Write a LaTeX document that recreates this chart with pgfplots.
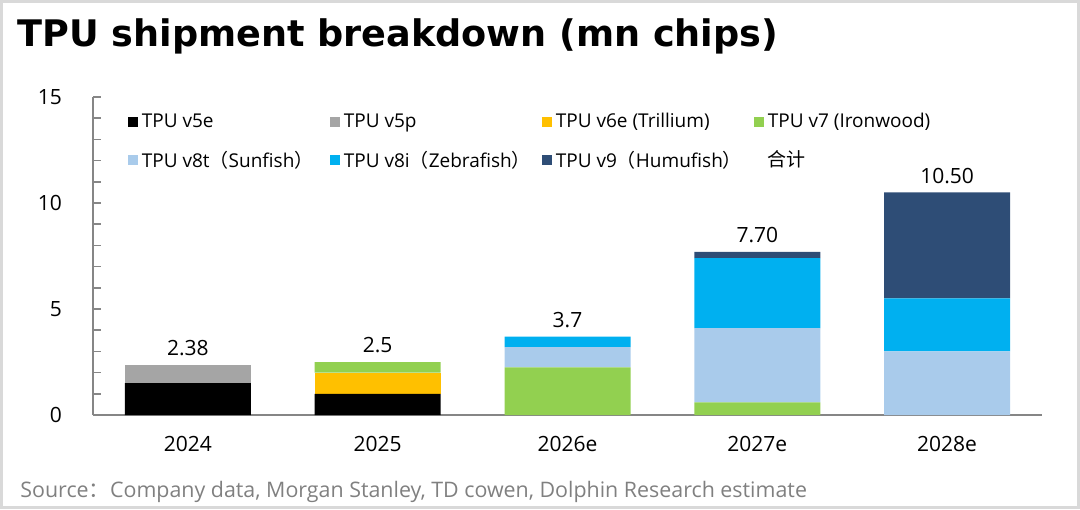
\documentclass[border=0pt]{standalone}
\usepackage{pgfplots}
\pgfplotsset{compat=1.18}
\usepackage{fontspec}
\setmainfont{Open Sans}
\newfontfamily\cjk{Noto Sans CJK SC}
\newfontfamily\dejavu{DejaVu Sans}
\definecolor{cV5e}{RGB}{0,0,0}
\definecolor{cV5p}{RGB}{165,165,165}
\definecolor{cV6e}{RGB}{255,192,0}
\definecolor{cV7}{RGB}{146,208,80}
\definecolor{cV8t}{RGB}{169,203,235}
\definecolor{cV8i}{RGB}{0,176,240}
\definecolor{cV9}{RGB}{46,77,118}
\definecolor{framegray}{RGB}{217,217,217}
\definecolor{axisgray}{RGB}{134,134,134}
\definecolor{srcgray}{RGB}{128,128,128}
\pgfplotsset{
  sq/.style={legend image code/.code={\fill[##1] (0pt,-2.5pt) rectangle (5pt,2.5pt);}},
  frame/.style={at={(46.5pt,47pt)}, anchor=south west,
    scale only axis, width=474.5pt, height=159pt,
    xmin=-0.5, xmax=4.5, ymin=0, ymax=15},
}
\begin{document}
\begin{tikzpicture}
\useasboundingbox (0,0) rectangle (540pt,254.5pt);
\draw[framegray, line width=1.5pt] (0.75pt,0.75pt) rectangle (539.25pt,253.75pt);
\node[anchor=base west, inner sep=0pt, font=\dejavu\bfseries\fontsize{18.3}{21}\selectfont] at (8.5pt,231pt) {TPU shipment breakdown (mn chips)};
\node[anchor=base west, inner sep=0pt, text=srcgray, font=\fontsize{10.7}{12}\selectfont] at (10pt,6pt) {Source{\cjk ：}Company data, Morgan Stanley, TD cowen, Dolphin Research estimate};
\begin{axis}[
  frame,
  ybar stacked, bar width=63pt,
  axis x line*=bottom, axis y line*=left,
  axis line style={draw=axisgray, line width=1pt},
  ytick={0,5,10,15}, minor ytick={1,2,3,4,6,7,8,9,11,12,13,14},
  tick align=inside, major tick length=4pt, minor tick length=4pt,
  ytick style={draw=axisgray, line width=0.75pt},
  minor tick style={draw=axisgray, line width=0.75pt},
  xtick=data, xticklabels={2024,2025,2026e,2027e,2028e},
  xtick style={draw=none},
  /pgf/number format/assume math mode=true,
  tick label style={font=\fontsize{10.5}{12}\selectfont},
  yticklabel style={xshift=-12pt},
  xticklabel style={yshift=-7pt},
  legend style={at={(0.03,0.975)}, anchor=north west, draw=none, fill=none,
    font=\fontsize{9.5}{11}\selectfont, row sep=6pt},
  legend columns=4, legend cell align=left,
]
\addplot[sq, fill=cV5e, draw=none] coordinates {(0,1.5) (1,1.0) (2,0) (3,0) (4,0)};
\addlegendentry{\makebox[92pt][l]{TPU v5e}}
\addplot[sq, fill=cV5p, draw=none] coordinates {(0,0.88) (1,0) (2,0) (3,0) (4,0)};
\addlegendentry{\makebox[97pt][l]{TPU v5p}}
\addplot[sq, fill=cV6e, draw=none] coordinates {(0,0) (1,1.0) (2,0) (3,0) (4,0)};
\addlegendentry{\makebox[97pt][l]{TPU v6e (Trillium)}}
\addplot[sq, fill=cV7, draw=none] coordinates {(0,0) (1,0.5) (2,2.25) (3,0.6) (4,0)};
\addlegendentry{TPU v7 (Ironwood)}
\addplot[sq, fill=cV8t, draw=none] coordinates {(0,0) (1,0) (2,0.95) (3,3.5) (4,3.0)};
\addlegendentry{TPU v8t{\cjk （}Sunfish{\cjk ）}}
\addplot[sq, fill=cV8i, draw=none] coordinates {(0,0) (1,0) (2,0.5) (3,3.3) (4,2.5)};
\addlegendentry{TPU v8i{\cjk （}Zebrafish{\cjk ）}}
\addplot[sq, fill=cV9, draw=none] coordinates {(0,0) (1,0) (2,0) (3,0.3) (4,5.0)};
\addlegendentry{TPU v9{\cjk （}Humufish{\cjk ）}}
\addlegendimage{draw=none, fill=none, legend image code/.code={\path[draw=none, fill=none] (0pt,-2.5pt) rectangle (5pt,2.5pt);}}
\addlegendentry{{\cjk 合计}}
\end{axis}
\begin{axis}[frame, hide axis]
\addplot[only marks, mark=none, nodes near coords, point meta=explicit symbolic,
  every node near coord/.append style={font=\fontsize{10.5}{12}\selectfont, text=black, anchor=south, yshift=1pt}]
  coordinates {(0,2.38) [2.38] (1,2.5) [2.5] (2,3.7) [3.7] (3,7.70) [7.70] (4,10.50) [10.50]};
\end{axis}
\end{tikzpicture}
\end{document}
